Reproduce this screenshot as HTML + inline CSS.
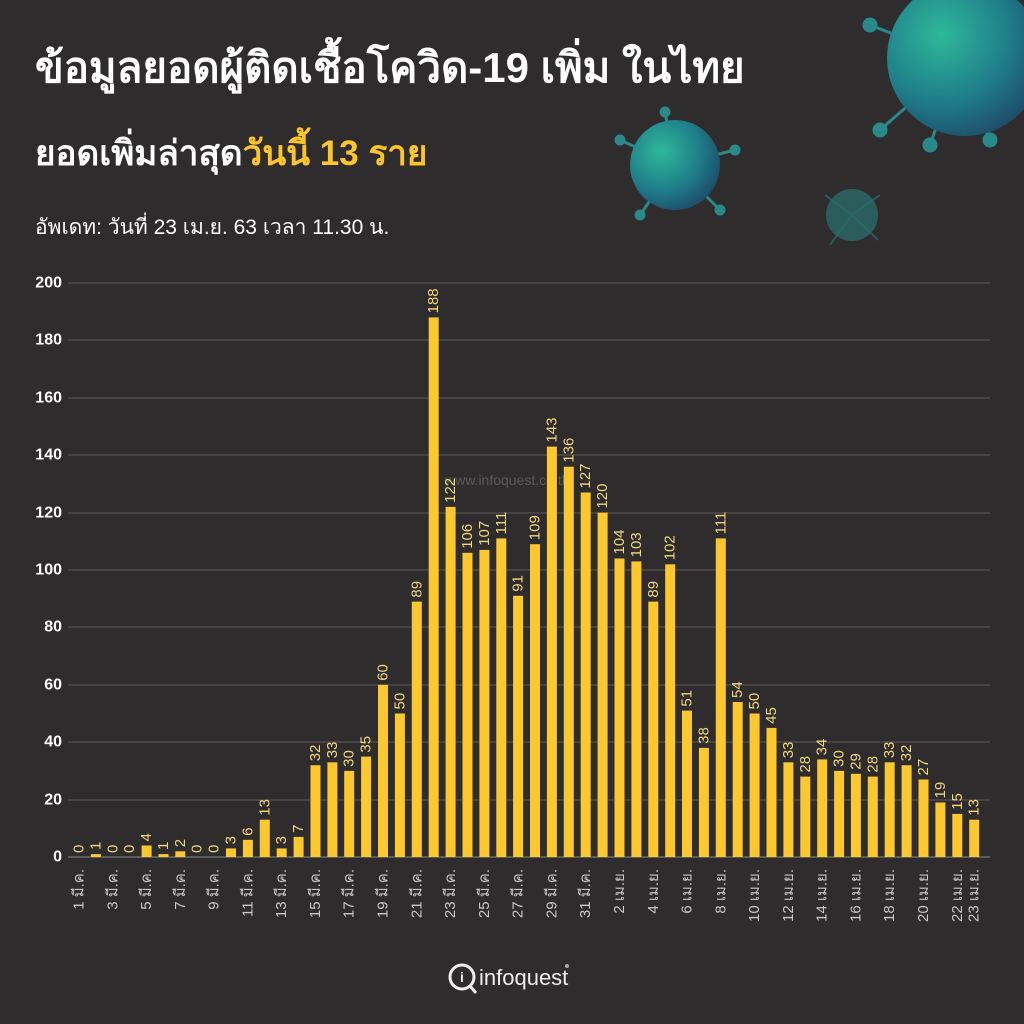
<!DOCTYPE html>
<html><head><meta charset="utf-8"><style>
html,body{margin:0;padding:0;background:#2e2c2d;}
svg{display:block}
.t{font-family:"Liberation Sans","DejaVu Sans",sans-serif}
.v{font-family:"Liberation Sans",sans-serif;font-size:15px;fill:#f3d77c;dominant-baseline:central}
.x{font-family:"Liberation Sans","DejaVu Sans",sans-serif;font-size:15px;fill:#c8c8c8;text-anchor:end;dominant-baseline:central}
.y{font-family:"Liberation Sans",sans-serif;font-size:16px;font-weight:bold;fill:#fff;text-anchor:end;dominant-baseline:central}
</style></head><body>
<svg width="1024" height="1024" viewBox="0 0 1024 1024" xmlns="http://www.w3.org/2000/svg">
<defs>
<radialGradient id="vg" cx="35%" cy="35%" r="70%"><stop offset="0" stop-color="#2fb89a"/><stop offset="0.6" stop-color="#1f7f8a"/><stop offset="1" stop-color="#1e4f6a"/></radialGradient>
</defs>
<rect width="1024" height="1024" fill="#2e2c2d"/>
<g stroke="#2a8a8a" stroke-width="3" fill="#2a8a8a">
<line x1="960" y1="60" x2="870" y2="25"/><line x1="960" y1="60" x2="880" y2="130"/><line x1="960" y1="60" x2="930" y2="145"/><line x1="960" y1="60" x2="990" y2="140"/>
<circle cx="870" cy="25" r="6"/><circle cx="880" cy="130" r="6"/><circle cx="930" cy="145" r="6"/><circle cx="990" cy="140" r="6"/>
<line x1="675" y1="165" x2="620" y2="140"/><line x1="675" y1="165" x2="735" y2="150"/><line x1="675" y1="165" x2="640" y2="215"/><line x1="675" y1="165" x2="720" y2="210"/><line x1="675" y1="165" x2="665" y2="112"/>
<circle cx="620" cy="140" r="4"/><circle cx="735" cy="150" r="4"/><circle cx="640" cy="215" r="4"/><circle cx="720" cy="210" r="4"/><circle cx="665" cy="112" r="4"/>
</g>
<g stroke="#2a5a5a" stroke-width="2" fill="#2a5a5a">
<line x1="852" y1="215" x2="825" y2="195"/><line x1="852" y1="215" x2="880" y2="195"/><line x1="852" y1="215" x2="830" y2="245"/><line x1="852" y1="215" x2="878" y2="240"/>
</g>
<circle cx="965" cy="58" r="78" fill="url(#vg)"/>
<circle cx="675" cy="165" r="45" fill="url(#vg)"/>
<circle cx="852" cy="215" r="26" fill="#2a6a68" opacity="0.8"/>

<text class="t" x="35" y="82" font-size="42" font-weight="bold" fill="#fff">ข้อมูลยอดผู้ติดเชื้อโควิด-19 เพิ่ม ในไทย</text>
<text class="t" x="35" y="165" font-size="35" font-weight="bold" fill="#fff">ยอดเพิ่มล่าสุด<tspan fill="#fdc52a">วันนี้ 13 ราย</tspan></text>
<text class="t" x="35" y="234" font-size="21" fill="#fff">อัพเดท: วันที่  23 เม.ย. 63 เวลา 11.30 น.</text>

<g stroke="#5c5a5b" stroke-width="1">
<line x1="68" x2="990" y1="283" y2="283"/><line x1="68" x2="990" y1="340" y2="340"/><line x1="68" x2="990" y1="398" y2="398"/><line x1="68" x2="990" y1="455" y2="455"/><line x1="68" x2="990" y1="513" y2="513"/><line x1="68" x2="990" y1="570" y2="570"/><line x1="68" x2="990" y1="627" y2="627"/><line x1="68" x2="990" y1="685" y2="685"/><line x1="68" x2="990" y1="742" y2="742"/><line x1="68" x2="990" y1="800" y2="800"/>
</g>
<line x1="68" x2="990" y1="857" y2="857" stroke="#8a8a8a" stroke-width="1"/>
<g>
<text class="y" x="62" y="283">200</text><text class="y" x="62" y="340">180</text><text class="y" x="62" y="398">160</text><text class="y" x="62" y="455">140</text><text class="y" x="62" y="513">120</text><text class="y" x="62" y="570">100</text><text class="y" x="62" y="627">80</text><text class="y" x="62" y="685">60</text><text class="y" x="62" y="742">40</text><text class="y" x="62" y="800">20</text><text class="y" x="62" y="857">0</text>
</g>
<text class="t" x="445" y="485" font-size="14" fill="#777" opacity="0.6">www.infoquest.co.th</text>

<g fill="#fdc72e">
<rect x="90.9" y="854.1" width="10" height="2.9"/>
<rect x="141.6" y="845.5" width="10" height="11.5"/>
<rect x="158.5" y="854.1" width="10" height="2.9"/>
<rect x="175.3" y="851.3" width="10" height="5.7"/>
<rect x="226" y="848.4" width="10" height="8.6"/>
<rect x="242.9" y="839.8" width="10" height="17.2"/>
<rect x="259.8" y="819.7" width="10" height="37.3"/>
<rect x="276.7" y="848.4" width="10" height="8.6"/>
<rect x="293.6" y="836.9" width="10" height="20.1"/>
<rect x="310.5" y="765.2" width="10" height="91.8"/>
<rect x="327.4" y="762.3" width="10" height="94.7"/>
<rect x="344.2" y="770.9" width="10" height="86.1"/>
<rect x="361.1" y="756.6" width="10" height="100.4"/>
<rect x="378" y="684.8" width="10" height="172.2"/>
<rect x="394.9" y="713.5" width="10" height="143.5"/>
<rect x="411.8" y="601.6" width="10" height="255.4"/>
<rect x="428.7" y="317.4" width="10" height="539.6"/>
<rect x="445.6" y="506.9" width="10" height="350.1"/>
<rect x="462.5" y="552.8" width="10" height="304.2"/>
<rect x="479.4" y="549.9" width="10" height="307.1"/>
<rect x="496.3" y="538.4" width="10" height="318.6"/>
<rect x="513.1" y="595.8" width="10" height="261.2"/>
<rect x="530" y="544.2" width="10" height="312.8"/>
<rect x="546.9" y="446.6" width="10" height="410.4"/>
<rect x="563.8" y="466.7" width="10" height="390.3"/>
<rect x="580.7" y="492.5" width="10" height="364.5"/>
<rect x="597.6" y="512.6" width="10" height="344.4"/>
<rect x="614.5" y="558.5" width="10" height="298.5"/>
<rect x="631.4" y="561.4" width="10" height="295.6"/>
<rect x="648.3" y="601.6" width="10" height="255.4"/>
<rect x="665.2" y="564.3" width="10" height="292.7"/>
<rect x="682" y="710.6" width="10" height="146.4"/>
<rect x="698.9" y="747.9" width="10" height="109.1"/>
<rect x="715.8" y="538.4" width="10" height="318.6"/>
<rect x="732.7" y="702" width="10" height="155"/>
<rect x="749.6" y="713.5" width="10" height="143.5"/>
<rect x="766.5" y="727.9" width="10" height="129.1"/>
<rect x="783.4" y="762.3" width="10" height="94.7"/>
<rect x="800.3" y="776.6" width="10" height="80.4"/>
<rect x="817.2" y="759.4" width="10" height="97.6"/>
<rect x="834.1" y="770.9" width="10" height="86.1"/>
<rect x="850.9" y="773.8" width="10" height="83.2"/>
<rect x="867.8" y="776.6" width="10" height="80.4"/>
<rect x="884.7" y="762.3" width="10" height="94.7"/>
<rect x="901.6" y="765.2" width="10" height="91.8"/>
<rect x="918.5" y="779.5" width="10" height="77.5"/>
<rect x="935.4" y="802.5" width="10" height="54.5"/>
<rect x="952.3" y="813.9" width="10" height="43.1"/>
<rect x="969.2" y="819.7" width="10" height="37.3"/>
</g>

<g>
<text class="v" transform="translate(79,853) rotate(-90)">0</text>
<text class="v" transform="translate(95.9,850) rotate(-90)">1</text>
<text class="v" transform="translate(112.8,853) rotate(-90)">0</text>
<text class="v" transform="translate(129.7,853) rotate(-90)">0</text>
<text class="v" transform="translate(146.6,841.5) rotate(-90)">4</text>
<text class="v" transform="translate(163.5,850) rotate(-90)">1</text>
<text class="v" transform="translate(180.3,847.3) rotate(-90)">2</text>
<text class="v" transform="translate(214.1,853) rotate(-90)">0</text>
<text class="v" transform="translate(197.2,853) rotate(-90)">0</text>
<text class="v" transform="translate(231,844.4) rotate(-90)">3</text>
<text class="v" transform="translate(247.9,835.8) rotate(-90)">6</text>
<text class="v" transform="translate(264.8,815.7) rotate(-90)">13</text>
<text class="v" transform="translate(281.7,844.4) rotate(-90)">3</text>
<text class="v" transform="translate(298.6,832.9) rotate(-90)">7</text>
<text class="v" transform="translate(315.5,761.2) rotate(-90)">32</text>
<text class="v" transform="translate(332.4,758.3) rotate(-90)">33</text>
<text class="v" transform="translate(349.2,766.9) rotate(-90)">30</text>
<text class="v" transform="translate(366.1,752.6) rotate(-90)">35</text>
<text class="v" transform="translate(383,680.8) rotate(-90)">60</text>
<text class="v" transform="translate(399.9,709.5) rotate(-90)">50</text>
<text class="v" transform="translate(416.8,597.6) rotate(-90)">89</text>
<text class="v" transform="translate(433.7,313.4) rotate(-90)">188</text>
<text class="v" transform="translate(450.6,502.9) rotate(-90)">122</text>
<text class="v" transform="translate(467.5,548.8) rotate(-90)">106</text>
<text class="v" transform="translate(484.4,545.9) rotate(-90)">107</text>
<text class="v" transform="translate(501.3,534.4) rotate(-90)">111</text>
<text class="v" transform="translate(518.1,591.8) rotate(-90)">91</text>
<text class="v" transform="translate(535,540.2) rotate(-90)">109</text>
<text class="v" transform="translate(551.9,442.6) rotate(-90)">143</text>
<text class="v" transform="translate(568.8,462.7) rotate(-90)">136</text>
<text class="v" transform="translate(585.7,488.5) rotate(-90)">127</text>
<text class="v" transform="translate(602.6,508.6) rotate(-90)">120</text>
<text class="v" transform="translate(619.5,554.5) rotate(-90)">104</text>
<text class="v" transform="translate(636.4,557.4) rotate(-90)">103</text>
<text class="v" transform="translate(653.3,597.6) rotate(-90)">89</text>
<text class="v" transform="translate(670.2,560.3) rotate(-90)">102</text>
<text class="v" transform="translate(687,706.6) rotate(-90)">51</text>
<text class="v" transform="translate(703.9,743.9) rotate(-90)">38</text>
<text class="v" transform="translate(720.8,534.4) rotate(-90)">111</text>
<text class="v" transform="translate(737.7,698) rotate(-90)">54</text>
<text class="v" transform="translate(754.6,709.5) rotate(-90)">50</text>
<text class="v" transform="translate(771.5,723.9) rotate(-90)">45</text>
<text class="v" transform="translate(788.4,758.3) rotate(-90)">33</text>
<text class="v" transform="translate(805.3,772.6) rotate(-90)">28</text>
<text class="v" transform="translate(822.2,755.4) rotate(-90)">34</text>
<text class="v" transform="translate(839.1,766.9) rotate(-90)">30</text>
<text class="v" transform="translate(855.9,769.8) rotate(-90)">29</text>
<text class="v" transform="translate(872.8,772.6) rotate(-90)">28</text>
<text class="v" transform="translate(889.7,758.3) rotate(-90)">33</text>
<text class="v" transform="translate(906.6,761.2) rotate(-90)">32</text>
<text class="v" transform="translate(923.5,775.5) rotate(-90)">27</text>
<text class="v" transform="translate(940.4,798.5) rotate(-90)">19</text>
<text class="v" transform="translate(957.3,809.9) rotate(-90)">15</text>
<text class="v" transform="translate(974.2,815.7) rotate(-90)">13</text>
</g>

<g>
<text class="x" transform="translate(79,869) rotate(-90)">1 มี.ค.</text>
<text class="x" transform="translate(112.8,869) rotate(-90)">3 มี.ค.</text>
<text class="x" transform="translate(146.6,869) rotate(-90)">5 มี.ค.</text>
<text class="x" transform="translate(180.3,869) rotate(-90)">7 มี.ค.</text>
<text class="x" transform="translate(214.1,869) rotate(-90)">9 มี.ค.</text>
<text class="x" transform="translate(247.9,869) rotate(-90)">11 มี.ค.</text>
<text class="x" transform="translate(281.7,869) rotate(-90)">13 มี.ค.</text>
<text class="x" transform="translate(315.5,869) rotate(-90)">15 มี.ค.</text>
<text class="x" transform="translate(349.2,869) rotate(-90)">17 มี.ค.</text>
<text class="x" transform="translate(383,869) rotate(-90)">19 มี.ค.</text>
<text class="x" transform="translate(416.8,869) rotate(-90)">21 มี.ค.</text>
<text class="x" transform="translate(450.6,869) rotate(-90)">23 มี.ค.</text>
<text class="x" transform="translate(484.4,869) rotate(-90)">25 มี.ค.</text>
<text class="x" transform="translate(518.1,869) rotate(-90)">27 มี.ค.</text>
<text class="x" transform="translate(551.9,869) rotate(-90)">29 มี.ค.</text>
<text class="x" transform="translate(585.7,869) rotate(-90)">31 มี.ค.</text>
<text class="x" transform="translate(619.5,869) rotate(-90)">2 เม.ย.</text>
<text class="x" transform="translate(653.3,869) rotate(-90)">4 เม.ย.</text>
<text class="x" transform="translate(687,869) rotate(-90)">6 เม.ย.</text>
<text class="x" transform="translate(720.8,869) rotate(-90)">8 เม.ย.</text>
<text class="x" transform="translate(754.6,869) rotate(-90)">10 เม.ย.</text>
<text class="x" transform="translate(788.4,869) rotate(-90)">12 เม.ย.</text>
<text class="x" transform="translate(822.2,869) rotate(-90)">14 เม.ย.</text>
<text class="x" transform="translate(855.9,869) rotate(-90)">16 เม.ย.</text>
<text class="x" transform="translate(889.7,869) rotate(-90)">18 เม.ย.</text>
<text class="x" transform="translate(923.5,869) rotate(-90)">20 เม.ย.</text>
<text class="x" transform="translate(957.3,869) rotate(-90)">22 เม.ย.</text>
<text class="x" transform="translate(974.2,869) rotate(-90)">23 เม.ย.</text>
</g>

<g>
<circle cx="462" cy="977" r="12" fill="none" stroke="#eee" stroke-width="3"/>
<line x1="470" y1="986" x2="476" y2="993" stroke="#eee" stroke-width="3"/>
<text x="462" y="982" font-family="Liberation Sans,sans-serif" font-size="14" font-weight="bold" fill="#eee" text-anchor="middle">i</text>
<text x="479" y="985" font-family="Liberation Sans,sans-serif" font-size="22" fill="#eee">infoquest</text>
<circle cx="567" cy="966" r="2" fill="#aaa"/>
</g>
</svg>
</body></html>
